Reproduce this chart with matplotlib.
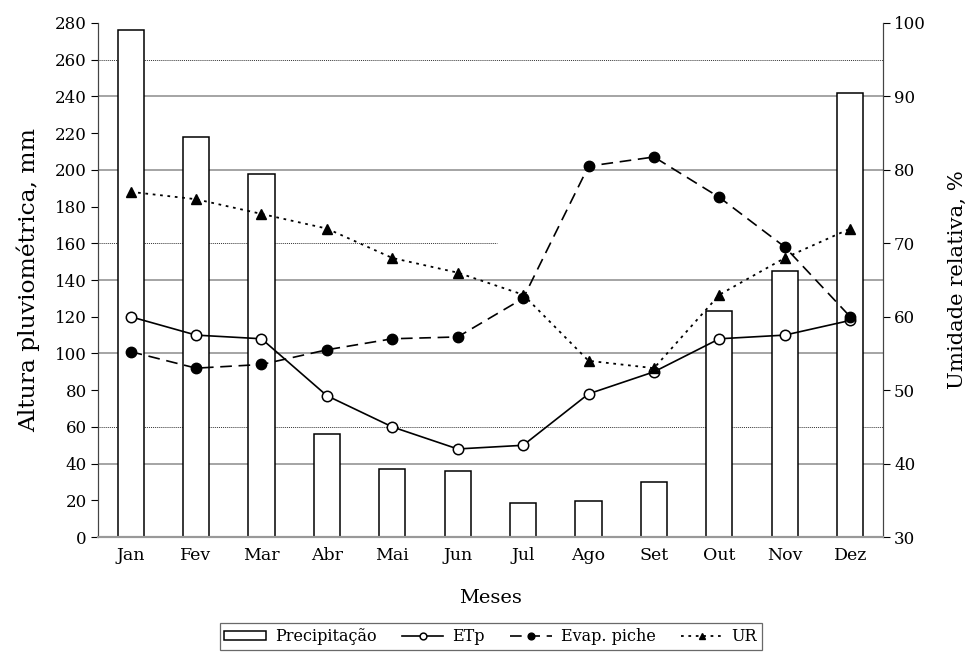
# - Import packages

import matplotlib
matplotlib.use('Agg')
import matplotlib.pyplot as plt
import numpy as np

# - Data

meses = ['Jan', 'Fev', 'Mar', 'Abr', 'Mai', 'Jun', 'Jul', 'Ago', 'Set', 'Out', 'Nov', 'Dez']
precipitacao = [276, 218, 198, 56, 37, 36, 18.5, 19.5, 30, 123, 145, 242]
etp = [120, 110, 108, 77, 60, 48, 50, 78, 90, 108, 110, 118]
evap_piche = [101, 92, 94, 102, 108, 109, 130, 202, 207, 185, 158, 120]
ur = [77, 76, 74, 72, 68, 66, 63, 54, 53, 63, 68, 72]

# gridlines as drawn in the original (mm, style)
grid_solid = [40, 100, 140, 200, 240]
grid_dotted = [60, 260]

# - Plot

plt.rc('font', family='DejaVu Serif', size=12)
fig = plt.figure(figsize=(9.66, 6.55), dpi=100)
ax1 = fig.add_axes([0.1014, 0.180, 0.8126, 0.785])
ax2 = ax1.twinx()

x = np.arange(len(meses))

# Gridlines
for g in grid_solid:
    ax1.axhline(g, color='#8c8c8c', lw=1.1, zorder=0)
for g in grid_dotted:
    ax1.axhline(g, color='#333333', lw=0.7, ls=(0, (1, 1)), zorder=0)
ax1.axhline(160, xmin=0, xmax=0.508, color='#333333', lw=0.7, ls=(0, (1, 1)), zorder=0)

bars = ax1.bar(x, precipitacao, width=0.4, color='white', edgecolor='black', lw=1.1,
               zorder=2, label='Precipitação')
l_etp, = ax1.plot(x, etp, '-o', color='black', lw=1.2, ms=7.5, mfc='white', mec='black',
                  mew=1.1, zorder=4, label='ETp')
l_evap, = ax1.plot(x, evap_piche, 'o', ls=(0, (7, 4)), color='black', lw=1.2, ms=7.5,
                   zorder=4, label='Evap. piche')
l_ur, = ax2.plot(x, ur, '^', ls=(0, (1.5, 2.6)), color='black', lw=1.3, ms=6.5,
                 zorder=4, label='UR')

# Axes
ax1.set_xlim(-0.5, len(meses) - 0.5)
ax1.set_ylim(0, 280)
ax1.set_yticks(np.arange(0, 281, 20))
ax2.set_ylim(30, 100)
ax2.set_yticks(np.arange(30, 101, 10))

ax1.set_xticks(x)
ax1.set_xticklabels(meses)
ax1.tick_params(axis='x', length=0, pad=7, labelsize=12.5)
ax1.tick_params(axis='y', direction='out', length=5, width=0.8, labelsize=12, pad=3)
ax2.tick_params(axis='y', direction='out', length=5, width=0.8, labelsize=12, pad=3)

for a in (ax1, ax2):
    a.spines['top'].set_visible(False)
    a.spines['left'].set_color('#444444')
    a.spines['right'].set_color('#444444')
    a.spines['bottom'].set_color('#999999')
    a.spines['bottom'].set_linewidth(1.5)

ax1.set_ylabel('Altura pluviométrica, mm', fontsize=16.8, labelpad=11)
ax2.set_ylabel('Umidade relativa, %', fontsize=15.2, labelpad=16)
ax1.set_xlabel('Meses', fontsize=14, labelpad=18)

leg = fig.legend([bars, l_etp, l_evap, l_ur],
                 ['Precipitação', 'ETp', 'Evap. piche', 'UR'],
                 loc='center', bbox_to_anchor=(0.508, 0.028), ncol=4, fontsize=11.5,
                 frameon=True, fancybox=False, edgecolor='#444444', handlelength=2.6,
                 handleheight=0.45, columnspacing=1.6, handletextpad=0.55,
                 borderpad=0.3, borderaxespad=0.3, markerscale=0.65)
leg.get_frame().set_linewidth(0.9)

fig.savefig('out.png', dpi=100)
